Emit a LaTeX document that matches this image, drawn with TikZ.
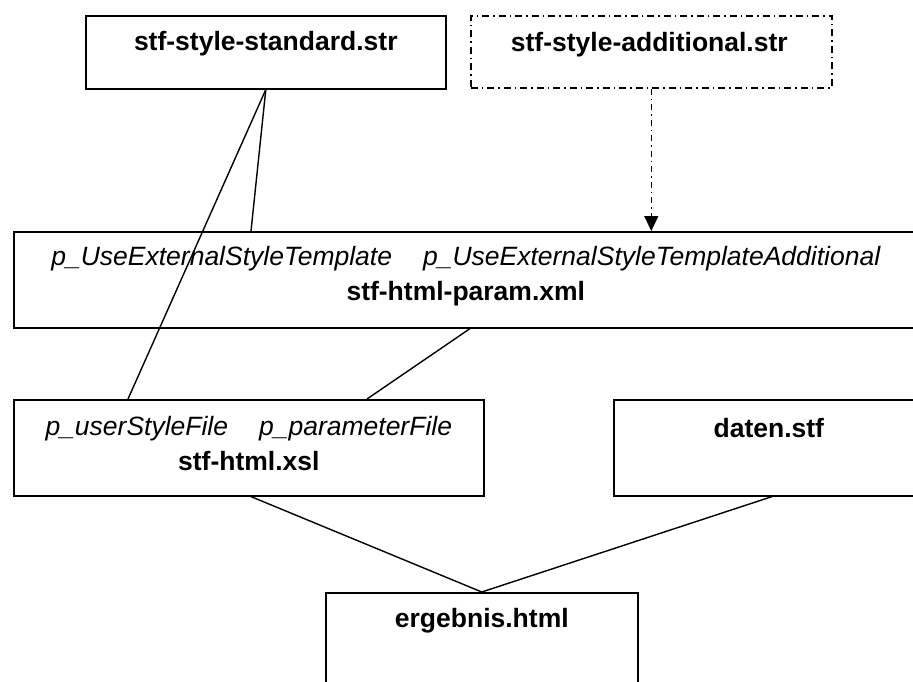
\documentclass[tikz,border=0pt]{standalone}
\usepackage{fontspec}
\setmainfont{Liberation Sans}
\usetikzlibrary{calc, positioning, arrows.meta}

\begin{document}
\begin{tikzpicture}[x=1pt, y=-1pt,
    filebox/.style={draw, line width=1.6pt, rectangle, inner sep=0, anchor=north west},
    optbox/.style={filebox, dash pattern=on 7pt off 4pt on 1.5pt off 4pt},
    filename/.style={font=\fontsize{26.5}{35}\selectfont\bfseries, inner sep=0},
    params/.style={font=\fontsize{26.5}{35}\selectfont, inner sep=0, align=center},
    link/.style={line width=1.4pt}]
    \useasboundingbox (0,0) rectangle (913,682);

    % Style files
    \node[filebox, minimum width=360, minimum height=73] (standard) at (85,15) {};
    \node[optbox, minimum width=361, minimum height=72] (additional) at (470,15) {};
    \node[filename] (standardname) at ($(standard.north)+(0,29)$) {stf-style-standard.str};
    \node[filename] (additionalname) at ($(additional.north)+(-2,30)$) {stf-style-additional.str};

    % Parameter file and stylesheet
    \node[filebox, minimum width=904, minimum height=96] (param) at (13,231) {};
    \node[params] (paramname) at ($(param.north)+(0,45)$)
      {{\itshape p\_UseExternalStyleTemplate\hspace{31pt}p\_UseExternalStyleTemplateAdditional}\\
       {\bfseries stf-html-param.xml}};
    \node[filebox, minimum width=470, minimum height=96] (xsl) at (13,399) {};
    \node[params] (xslname) at ($(xsl.north)+(0,45)$)
      {{\itshape p\_userStyleFile\hspace{31pt}p\_parameterFile}\\
       {\bfseries stf-html.xsl}};

    % Data and result
    \node[filebox, minimum width=310, minimum height=96] (daten) at (613,399) {};
    \node[filename] (datenname) at ($(daten.north)+(0,29)$) {daten.stf};
    \node[filebox, minimum width=312, minimum height=96] (ergebnis) at (325,592) {};
    \node[filename] (ergebnisname) at ($(ergebnis.north)+(0,29)$) {ergebnis.html};

    % Connections
    \draw[link] (standard.south) -- ([xshift=238pt]param.north west);
    \draw[link] (standard.south) -- ([xshift=115pt]xsl.north west);
    \draw[link, dash pattern=on 6pt off 4pt on 1.5pt off 4pt, -{Triangle[length=15pt,width=14pt]}]
      (additional.south) -- (additional.south |- param.north);
    \draw[link] ([xshift=457pt]param.south west) -- ([xshift=354pt]xsl.north west);
    \draw[link] ([xshift=238pt]xsl.south west) -- (ergebnis.north);
    \draw[link] ([xshift=159pt]daten.south west) -- (ergebnis.north);
\end{tikzpicture}
\end{document}
